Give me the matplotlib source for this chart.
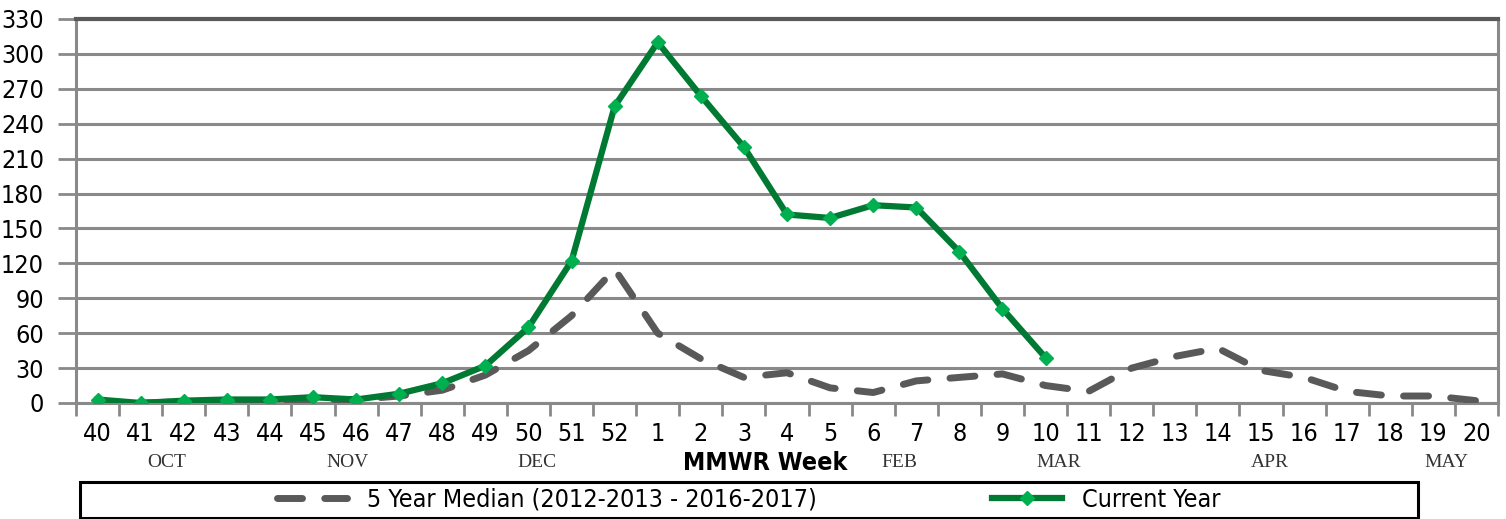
import matplotlib
matplotlib.use('Agg')
from matplotlib import pyplot as plt
from matplotlib import font_manager
from matplotlib.patches import Rectangle

# condensed face for the Calibri-like labels
cond = font_manager.FontProperties(family='DejaVu Sans', stretch='condensed')

weeks = ['40', '41', '42', '43', '44', '45', '46', '47', '48', '49', '50', '51', '52',
         '1', '2', '3', '4', '5', '6', '7', '8', '9', '10', '11', '12', '13', '14',
         '15', '16', '17', '18', '19', '20']
current = [3, 0, 2, 3, 3, 5, 3, 8, 17, 32, 65, 122, 255, 310, 264, 220, 162, 159,
           170, 168, 130, 81, 39]
median = [1, 0, 1, 2, 2, 3, 3, 6, 11, 24, 45, 75, 115, 60, 38, 22, 26, 13, 9, 19,
          22, 25, 15, 10, 30, 40, 47, 28, 22, 10, 6, 6, 2]
months = ['OCT', 'NOV', 'DEC', 'FEB', 'MAR', 'APR', 'MAY']
month_pos = [1.6, 5.8, 10.2, 18.6, 22.3, 27.2, 31.3]

fig = plt.figure(figsize=(15.06, 5.19), dpi=100)
ax = fig.add_axes([76/1506, 116/519, 1422/1506, 384/519])

x = list(range(len(weeks)))
ax.plot(x[:len(median)], median, color='#595959', lw=5, ls=(0, (3.6, 3.2)),
        dash_capstyle='round', label='5 Year Median (2012-2013 - 2016-2017)', zorder=3)
ax.plot(x[:len(current)], current, color='#007A33', lw=4.5, marker='D', ms=7,
        mfc='#00B050', mec='#00B050', label='Current Year', zorder=4)

ax.set_xlim(-0.5, len(weeks) - 0.5)
ax.set_ylim(0, 330)
ax.set_yticks(range(0, 331, 30))
ax.yaxis.grid(True, color='#898989', lw=2.2)
ax.set_axisbelow(True)

ax.set_xticks(x)
ax.set_xticklabels(weeks)
ax.set_xticks([i - 0.5 for i in range(len(weeks) + 1)], minor=True)
ax.tick_params(axis='x', which='major', length=0, pad=14)
ax.tick_params(axis='x', which='minor', length=9, width=2, color='#898989')
ax.tick_params(axis='y', length=13, width=2, color='#898989', pad=10)
for t in ax.get_xticklabels():
    t.set_fontproperties(cond)
    t.set_fontsize(18)
for t in ax.get_yticklabels():
    t.set_fontproperties(cond)
    t.set_fontsize(18)

for s in ['left', 'bottom', 'right']:
    ax.spines[s].set_color('#898989')
    ax.spines[s].set_linewidth(2.2)
ax.spines['top'].set_color('#595959')
ax.spines['top'].set_linewidth(3)

for m, p in zip(months, month_pos):
    ax.text(p, -0.155, m, transform=ax.get_xaxis_transform(), ha='center', va='center',
            family='Liberation Serif', fontsize=14, color='#333333')
ax.text(15.5, -0.155, 'MMWR Week', transform=ax.get_xaxis_transform(), ha='center',
        va='center', fontproperties=cond, fontsize=18, fontweight='bold')

fig.patches.append(Rectangle((80/1506, 1/519), 1338/1506, 36/519, transform=fig.transFigure,
                             fill=False, edgecolor='black', lw=2.2))
legprop = cond.copy()
legprop.set_size(18)
fig.legend(loc='center', bbox_to_anchor=(749/1506, 19/519), ncol=2, frameon=False,
           prop=legprop, handlelength=2.8, handletextpad=0.8, columnspacing=7)

fig.savefig('out.png', dpi=100)
